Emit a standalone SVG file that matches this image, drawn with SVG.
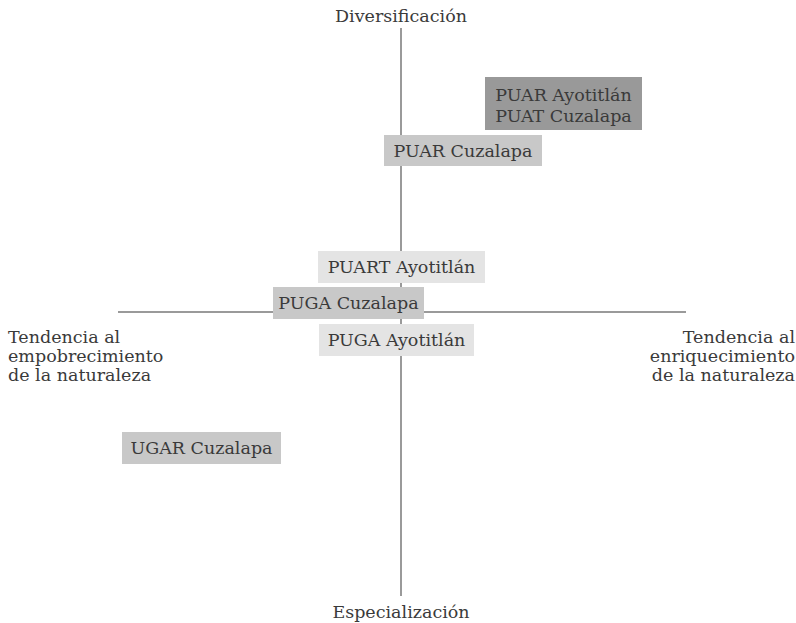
<svg xmlns="http://www.w3.org/2000/svg" width="796" height="623" viewBox="0 0 796 623">
<style>
text{font-family:"DejaVu Serif","Liberation Serif",serif;font-size:17.5px;fill:#3a3a3a}
.ax{stroke:#9a9a9a;stroke-width:2;fill:none}
.dark{fill:#999}
.mid{fill:#c8c8c8}
.light{fill:#e4e4e4}
.c{text-anchor:middle}
.r{text-anchor:end}
</style>
<rect width="796" height="623" fill="#fff"/>
<g id="connectors">
<line class="ax" x1="401" y1="28" x2="401" y2="596"/>
<line class="ax" x1="118" y1="312" x2="686" y2="312"/>
</g>
<g id="axis-labels">
<text class="c" x="401" y="22">Diversificación</text>
<text class="c" x="401" y="618">Especialización</text>
<text x="8" y="343">Tendencia al</text>
<text x="8" y="362">empobrecimiento</text>
<text x="8" y="381">de la naturaleza</text>
<text class="r" x="795" y="343">Tendencia al</text>
<text class="r" x="795" y="362">enriquecimiento</text>
<text class="r" x="795" y="381">de la naturaleza</text>
</g>
<g id="puar-ayotitlan-puat-cuzalapa">
<rect class="dark" x="485" y="77" width="157" height="53"/>
<text class="c" x="563.5" y="101">PUAR Ayotitlán</text>
<text class="c" x="563.5" y="122">PUAT Cuzalapa</text>
</g>
<g id="puar-cuzalapa">
<rect class="mid" x="384" y="135" width="158" height="31"/>
<text class="c" x="463" y="157">PUAR Cuzalapa</text>
</g>
<g id="puart-ayotitlan">
<rect class="light" x="318" y="251" width="167" height="32"/>
<text class="c" x="401.5" y="273">PUART Ayotitlán</text>
</g>
<g id="puga-cuzalapa">
<rect class="mid" x="273" y="287" width="151" height="32"/>
<text class="c" x="348.5" y="309">PUGA Cuzalapa</text>
</g>
<g id="puga-ayotitlan">
<rect class="light" x="319" y="324" width="155" height="32"/>
<text class="c" x="396.5" y="346">PUGA Ayotitlán</text>
</g>
<g id="ugar-cuzalapa">
<rect class="mid" x="122" y="432" width="159" height="32"/>
<text class="c" x="201.5" y="454">UGAR Cuzalapa</text>
</g>
</svg>
